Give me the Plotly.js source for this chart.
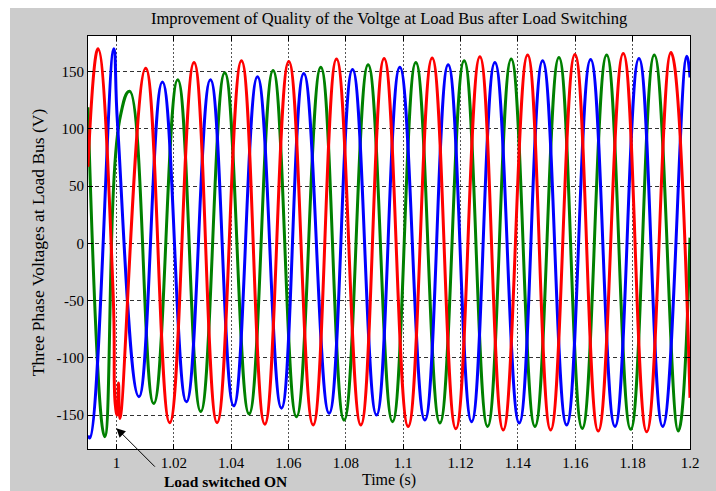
<!DOCTYPE html>
<html>
<head>
<meta charset="utf-8">
<script src="https://cdn.plot.ly/plotly-3.0.1.min.js"></script>
<style>
  html, body { margin: 0; padding: 0; background: #ffffff; width: 716px; height: 491px; overflow: hidden; }
  #plot { position: absolute; left: 10px; top: 8px; width: 706px; height: 483px; }
</style>
</head>
<body>
<div id="plot"></div>
<script>
// Phase A (red): extrema and notch points
const redTime = [0.99009, 0.99358, 0.99888, 0.99958, 1.00028, 1.00073, 1.00126, 1.01022, 1.01859, 1.02707, 1.03510, 1.04361, 1.05174, 1.06011, 1.06859, 1.07675, 1.08523, 1.09335, 1.10173, 1.11010, 1.11837, 1.12674, 1.13487, 1.14338, 1.15141, 1.15988, 1.16801, 1.17673, 1.18490, 1.19337, 1.20000];
const redVolt = [67, 170, -45, -140, -150, -122, -153, 153, -156.7, 158, -156.7, 159.5, -158, 159, -158.7, 161, -158.7, 161.6, -160, 162, -162, 163, -163, 164.5, -163, 165, -164, 166, -164.6, 166.8, -135];

// Phase B (blue)
const blueTime = [0.99009, 0.99076, 0.99906, 1.00038, 1.00788, 1.01605, 1.02442, 1.03279, 1.04092, 1.04919, 1.05756, 1.06534, 1.07417, 1.08233, 1.09070, 1.09883, 1.10755, 1.11568, 1.12385, 1.13197, 1.14045, 1.14862, 1.15699, 1.16536, 1.17384, 1.18221, 1.19048, 1.19885, 1.20000];
const blueVolt = [-168, -170, 170, 105, -134, 141, -138.4, 143, -142, 145.5, -144, 148.5, -148.5, 152, -150, 153.8, -154.4, 156, -155.8, 158, -157, 159.5, -158.7, 160.7, -160, 161.6, -160, 163.6, 145];

// Phase C (green)
const greenTime = [0.99009, 0.99592, 1.00115, 1.00464, 1.01301, 1.02138, 1.02941, 1.03778, 1.04626, 1.05463, 1.06279, 1.07127, 1.07940, 1.08777, 1.09628, 1.10441, 1.11279, 1.12126, 1.12943, 1.13766, 1.14593, 1.15430, 1.16243, 1.17094, 1.17932, 1.18755, 1.19592, 1.20000];
const greenVolt = [119, -169, 108, 133, -140, 143, -147, 149, -149, 151, -151.5, 154, -154.4, 156, -155.8, 158, -157, 159.5, -160, 161, -160, 162.5, -161.7, 164.5, -162.5, 164.5, -164, 5];

const xTickVals = [1, 1.02, 1.04, 1.06, 1.08, 1.1, 1.12, 1.14, 1.16, 1.18, 1.2];
const xTickText = ['1', '1.02', '1.04', '1.06', '1.08', '1.1', '1.12', '1.14', '1.16', '1.18', '1.2'];
const yTickVals = [-150, -100, -50, 0, 50, 100, 150];
const yTickText = ['-150', '-100', '-50', '0', '50', '100', '150'];

const FONT = 'Liberation Serif, Times New Roman, serif';

function trace(x, y, color) {
  return { x: x, y: y, type: 'scatter', mode: 'lines',
           line: { color: color, width: 3, shape: 'spline', smoothing: 1.3 },
           hoverinfo: 'skip', showlegend: false };
}

const data = [
  trace(greenTime, greenVolt, '#008000'),
  trace(blueTime, blueVolt, '#0000ff'),
  trace(redTime, redVolt, '#ff0000')
];

const layout = {
  width: 706, height: 483,
  paper_bgcolor: '#cccccc', plot_bgcolor: '#ffffff',
  margin: { l: 78, r: 26, t: 28, b: 42 },
  font: { family: FONT, size: 14, color: '#000000' },
  title: { text: 'Improvement of Quality of the Voltge at Load Bus after Load Switching',
           font: { family: FONT, size: 16.5, color: '#000' },
           x: 0.537, xanchor: 'center', y: 0.979, yanchor: 'middle', yref: 'container' },
  xaxis: {
    range: [0.9901, 1.2], tickvals: xTickVals, ticktext: xTickText,
    ticks: 'inside', ticklen: 5, tickcolor: '#000', mirror: 'allticks',
    showline: true, linecolor: '#000', linewidth: 1,
    showgrid: true, gridcolor: '#555555', gridwidth: 1, griddash: '2px,2px',
    zeroline: false, tickfont: { family: FONT, size: 15 },
    title: { text: 'Time (s)', font: { family: FONT, size: 16 }, standoff: 2 }
  },
  yaxis: {
    range: [-179.7, 181.2], tickvals: yTickVals, ticktext: yTickText,
    ticks: 'inside', ticklen: 5, tickcolor: '#000', mirror: 'allticks',
    showline: true, linecolor: '#000', linewidth: 1,
    showgrid: true, gridcolor: '#333333', gridwidth: 1, griddash: '4px,3px',
    zeroline: false, tickfont: { family: FONT, size: 15 },
    title: { text: 'Three Phase Voltages at Load Bus (V)', font: { family: FONT, size: 17.5 }, standoff: 7 }
  },
  annotations: [
    { xref: 'paper', yref: 'paper', x: 0.228, y: -0.079, text: '<b>Load switched ON</b>',
      showarrow: false, font: { family: FONT, size: 15.5, color: '#000' }, xanchor: 'center', yanchor: 'middle' },
    { xref: 'x', yref: 'y', x: 1.0, y: -161.5, text: ' ', showarrow: true,
      ax: 40, ay: 40, arrowhead: 2, arrowsize: 1.8, arrowwidth: 1, arrowcolor: '#000',
      font: { size: 1 } }
  ]
};

Plotly.newPlot('plot', data, layout, { displayModeBar: false, staticPlot: true });
</script>
</body>
</html>
